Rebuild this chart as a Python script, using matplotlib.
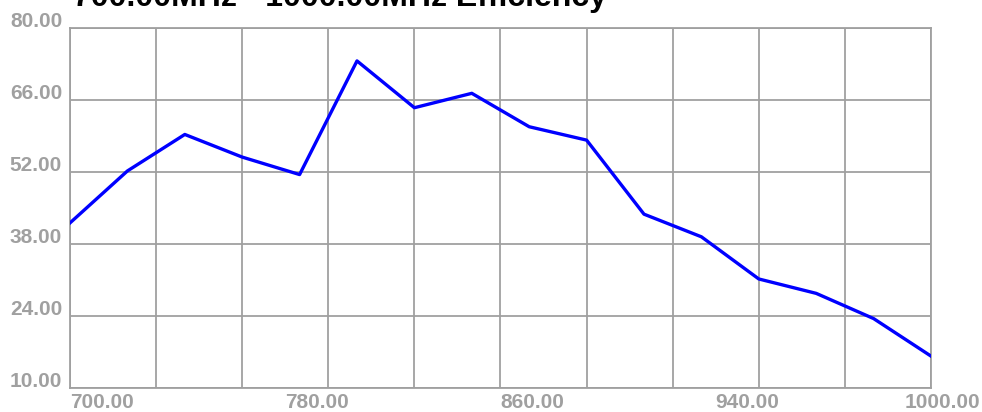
import matplotlib
matplotlib.use("Agg")
import matplotlib.pyplot as plt
import matplotlib.transforms as mtransforms

freq = [700, 720, 740, 760, 780, 800, 820, 840, 860, 880, 900, 920, 940, 960, 980, 1000]
efficiency = [42.1, 52.2, 59.3, 54.9, 51.5, 73.6, 64.5, 67.3, 60.8, 58.2, 43.8, 39.4,
              31.2, 28.4, 23.5, 16.2]

y_ticks = [10, 24, 38, 52, 66, 80]
x_grid = [700, 730, 760, 790, 820, 850, 880, 910, 940, 970, 1000]
x_tick_pos = [700, 775, 850, 925, 1000]
x_tick_labels = ["700.00", "780.00", "860.00", "940.00", "1000.00"]
title = "700.00MHz - 1000.00MHz Efficiency"

W, H = 982, 412
grey = "#a0a0a0"
plt.rcParams['font.family'] = ['Liberation Sans', 'DejaVu Sans']

fig = plt.figure(figsize=(W / 100, H / 100), dpi=100)
ax = fig.add_axes([70 / W, 24 / H, 861 / W, 360 / H])

ax.plot(freq, efficiency, color="#0000ff", linewidth=2.4, zorder=3)

ax.set_xlim(700, 1000)
ax.set_ylim(10, 80)
for x in x_grid:
    ax.axvline(x, color=grey, linewidth=1.3, zorder=1)
for y in y_ticks:
    ax.axhline(y, color=grey, linewidth=1.3, zorder=1)
for s in ax.spines.values():
    s.set_color(grey)
    s.set_linewidth(1.3)

ax.set_yticks(y_ticks, [f"{v:.2f}" for v in y_ticks])
ax.set_xticks(x_tick_pos, x_tick_labels)
ax.tick_params(length=0, colors=grey, labelsize=15)
for lab in ax.get_yticklabels():
    lab.set_fontweight("bold")
    lab.set_verticalalignment("baseline")
    lab.set_transform(lab.get_transform() + mtransforms.ScaledTranslation(-0.03, 0.01, fig.dpi_scale_trans))
xlabs = ax.get_xticklabels()
for lab in xlabs:
    lab.set_fontweight("bold")
    lab.set_horizontalalignment("left")
xlabs[-1].set_horizontalalignment("right")
xlabs[-1].set_transform(xlabs[-1].get_transform() + mtransforms.ScaledTranslation(0.49, 0, fig.dpi_scale_trans))

fig.text(73 / W, (H - 6) / H, title, fontsize=23, fontweight="bold", color="black",
         va="baseline", ha="left")

fig.savefig("out.png", dpi=100, facecolor="white")
